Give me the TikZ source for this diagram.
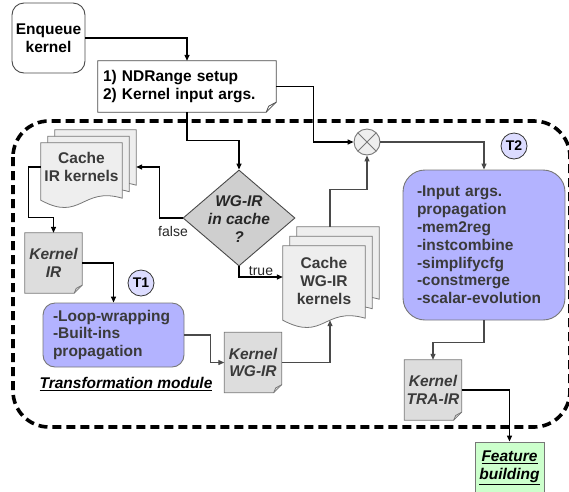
\documentclass[tikz,border=0pt]{standalone}
\usepackage{fontspec}
\setmainfont{Liberation Sans}
\usetikzlibrary{arrows.meta,shapes.geometric}
\definecolor{txt}{HTML}{3A3A3A}
\definecolor{lav}{HTML}{B3B3FF}
\definecolor{lavc}{HTML}{DCDCFF}
\definecolor{docf}{HTML}{EEEEEE}
\definecolor{notef}{HTML}{DDDDDD}
\definecolor{diaf}{HTML}{CFCFCF}
\definecolor{grn}{HTML}{CCFFCC}
\definecolor{edgec}{HTML}{777777}
\definecolor{linec}{HTML}{4A4A4A}
\pgfdeclarelayer{bg}
\pgfdeclarelayer{mid}
\pgfsetlayers{bg,mid,main}
\newcommand\bfs{\fontsize{15.5}{17.8}\selectfont\bfseries}
\newcommand\bfi{\fontsize{15.5}{17.8}\selectfont\bfseries\itshape}
% doc shape: name, dx, dy (canvas, up), half width, extension below node
\newcommand\docshape[5]{%
  \filldraw[docst] ([shift={(#2pt,#3pt)}]#1.north west) -- ([shift={(#2pt,#3pt)}]#1.north east)
   -- ([shift={(#2pt,#3pt-#5pt+2pt)}]#1.south east)
   .. controls +(-#4pt,12pt) and +(#4pt,-22pt) .. ([shift={(#2pt,#3pt-#5pt)}]#1.south west) -- cycle;}
% note shape with folded corner: name, fold, style
\newcommand\noteshape[3]{%
  \filldraw[#3] (#1.north west) -- (#1.north east) -- ([yshift=#2pt]#1.south east)
   -- ([xshift=-#2pt]#1.south east) -- (#1.south west) -- cycle;
  \draw[#3, fill=none] ([xshift=-#2pt]#1.south east) -- ([shift={(-0.75*#2pt,0.6*#2pt)}]#1.south east) -- ([yshift=#2pt]#1.south east);}
\begin{document}
\begin{tikzpicture}[x=1pt,y=-1pt,
  base/.style={font=\bfs, inner sep=0pt, align=center},
  kern/.style={font=\bfi, text=txt, inner sep=0pt, align=center, minimum width=57pt, minimum height=60pt},
  docst/.style={fill=docf, draw=edgec, line width=0.8pt},
  notest/.style={fill=notef, draw=edgec, line width=0.8pt},
  ndrst/.style={fill=white, draw=linec, line width=0.8pt},
  lbl/.style={font=\fontsize{14}{16}\selectfont, text=black!85, inner sep=0pt},
  tc/.style={circle, draw=black!80, line width=0.8pt, fill=lavc, minimum size=26pt, inner sep=0pt, font=\fontsize{14}{16}\selectfont\bfseries},
  tip/.style={-{Triangle[length=6pt,width=5pt]}},
  blk/.style={tip, draw=black, line width=1.3pt},
  gry/.style={tip, draw=linec, line width=1.2pt}
]
\useasboundingbox (0,0) rectangle (569,491);

% nodes
\node[base, draw=linec, line width=0.9pt, fill=white, rounded corners=12pt,
      minimum width=73pt, minimum height=70pt] (enq) at (48.5,38) {Enqueue\\kernel};
\node[base, align=left, text width=168pt, inner xsep=5pt, minimum height=51pt] (ndr) at (187,86.5)
      {1) NDRange setup\\2) Kernel input args.};
\node[circle, draw=edgec, line width=0.9pt, fill=docf, minimum size=26pt, inner sep=0pt,
      path picture={\draw[edgec, line width=0.8pt]
        (path picture bounding box.north west) -- (path picture bounding box.south east)
        (path picture bounding box.north east) -- (path picture bounding box.south west);}] (cx) at (367,142) {};
\node[tc] (t2c) at (514,146) {T2};
\node[base, text=txt, minimum width=81pt, minimum height=48pt] (cache1) at (81.5,167) {Cache\\IR kernels};
\coordinate (c1in) at ([xshift=14pt]cache1.east);
\node[diamond, draw=linec, fill=diaf, line width=0.9pt, minimum width=112pt, minimum height=96pt,
      inner sep=0pt] (dia) at (239,218) {};
\node[base, font=\bfi, text=black!85] (diat) at (239,219) {WG-IR\\in cache\\?};
\node[lbl] (fl) at (173,231) {false};
\node[lbl] (tr) at (261,271) {true};
\node[kern] (kir) at (53.5,263) {Kernel\\IR};
\node[tc] (t1c) at (141,283) {T1};
\node[base, text=txt, minimum width=82pt, minimum height=70pt] (cache2) at (324,281) {Cache\\WG-IR\\kernels};
\coordinate (c2b) at ([xshift=6pt,yshift=-4pt]cache2.south);
\coordinate (c2t) at ([xshift=6pt,yshift=19pt]cache2.north);
\node[base, align=left, text=txt, fill=lav, draw=edgec, line width=0.9pt, rounded corners=12pt,
      text width=121pt, inner xsep=10pt, minimum height=64pt] (t1) at (113.5,335)
      {-Loop-wrapping\\-Built-ins\\propagation};
\node[kern] (kwg) at (253,362.5) {Kernel\\WG-IR};
\node[base, font=\bfi] (tm) at (126,384) {\underline{Transformation module}};
\node[base, align=left, text=txt, fill=lav, draw=edgec, line width=0.9pt, rounded corners=22pt,
      text width=134pt, inner xsep=14pt, minimum height=150pt] (t2) at (484,245)
      {-Input args.\\propagation\\-mem2reg\\-instcombine\\-simplifycfg\\-constmerge\\-scalar-evolution};
\node[kern] (ktra) at (433,390) {Kernel\\TRA-IR};
\node[base, font=\bfi, fill=grn, draw=edgec, line width=0.9pt, minimum width=69pt, minimum height=52pt]
      (feat) at (509.5,468) {\underline{Feature}\\\underline{building}};

% background dashed module border
\begin{pgfonlayer}{bg}
\draw[line width=3.6pt, dash pattern=on 9pt off 5pt, rounded corners=36pt] (13,121) rectangle (570,427);
\end{pgfonlayer}

% document / note shapes
\begin{pgfonlayer}{mid}
\noteshape{ndr}{10}{ndrst}
\docshape{cache1}{14}{13}{40}{9}
\docshape{cache1}{7}{6.5}{40}{9}
\docshape{cache1}{0}{0}{40}{9}
\docshape{cache2}{14}{19}{41}{4}
\docshape{cache2}{7}{9.5}{41}{4}
\docshape{cache2}{0}{0}{41}{4}
\noteshape{kir}{8}{notest}
\noteshape{kwg}{8}{notest}
\noteshape{ktra}{8}{notest}
\end{pgfonlayer}

% connectors
\draw[blk] (enq.east) -| (ndr.north);
\draw[blk] (ndr.east) -- ++(37,0) |- (cx.west);
\draw[blk] (ndr.south) -- ++(0,28) -| (dia.north);
\draw[blk] (dia.west) -- ++(-23,0) |- (c1in);
\draw[blk] (cache1.west) -- ++(-12,0) |- ([yshift=15pt]kir.north) -- (kir.north);
\draw[blk] (kir.east) -| (t1.north);
\draw[gry] (t1.east) -- ++(26,0) |- (kwg.west);
\draw[gry] (kwg.east) -| (c2b);
\draw[blk] (dia.south) |- ([yshift=4pt]cache2.west);
\draw[gry] (c2t) -- ++(0,-37) -| (cx.south);
\draw[gry] (cx.east) -| (t2.north);
\draw[gry] (t2.south) -- ++(0,22) -| (ktra.north);
\draw[blk] (ktra.east) -| (feat.north);
\end{tikzpicture}
\end{document}
